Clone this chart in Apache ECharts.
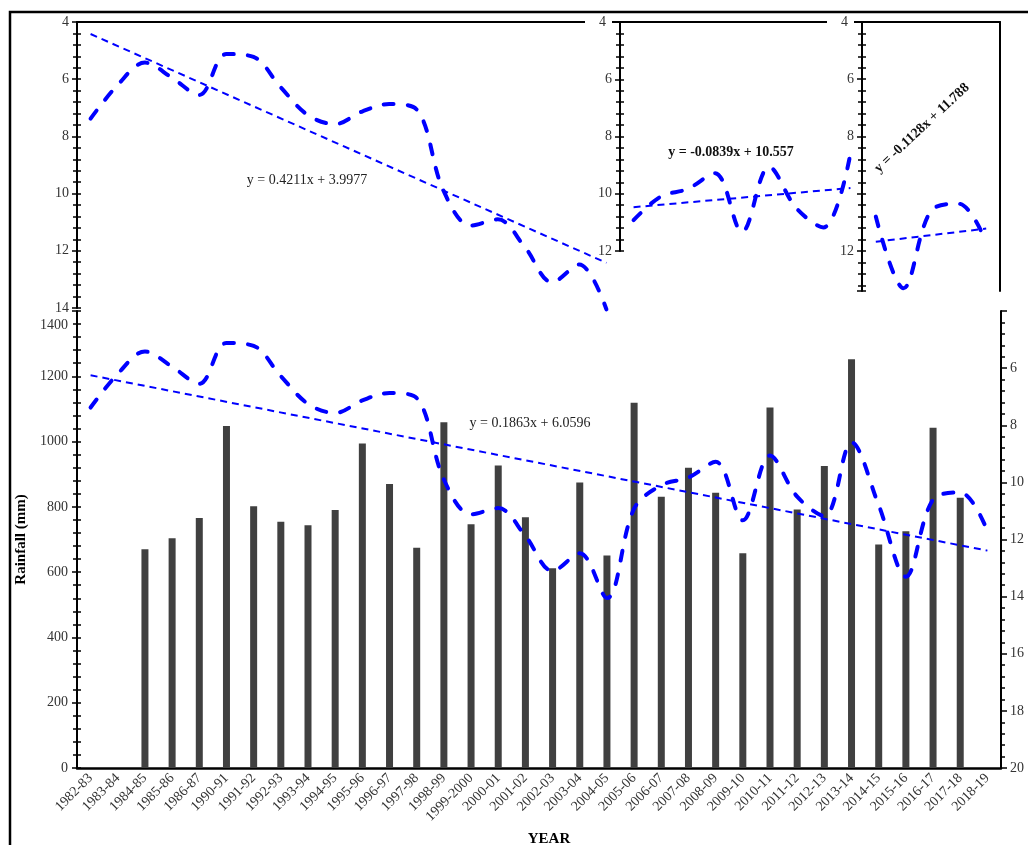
<!DOCTYPE html>
<html>
<head>
<meta charset="utf-8">
<title>Rainfall and trend</title>
<script src="https://cdn.jsdelivr.net/npm/echarts@6/dist/echarts.min.js"></script>
<style>
  html, body { margin: 0; padding: 0; background: #fff; }
  #chart { width: 1028px; height: 845px; }
</style>
</head>
<body>
<div id="chart"></div>
<script>
const years = ['1982-83', '1983-84', '1984-85', '1985-86', '1986-87', '1990-91', '1991-92', '1992-93',
  '1993-94', '1994-95', '1995-96', '1996-97', '1997-98', '1998-99', '1999-2000', '2000-01', '2001-02',
  '2002-03', '2003-04', '2004-05', '2005-06', '2006-07', '2007-08', '2008-09', '2009-10', '2010-11',
  '2011-12', '2012-13', '2013-14', '2014-15', '2015-16', '2016-17', '2017-18', '2018-19']

// rainfall bars (mm), left axis
const rainfall = [null, null, 670, 704, 766, 1048, 802, 754, 744, 790, 994, 870, 675, 1059, 747, 927,
  768, 612, 875, 651, 1119, 831, 920, 843, 658, 1104, 792, 925, 1252, 685, 725, 1042, 828, null]

// dashed blue curve, right axis (inverted)
const indexValues = [7.38, 6.2, 5.42, 5.95, 6.55, 5.12, 5.22, 6.28, 7.25, 7.57, 7.13, 6.87, 7.05, 9.9,
  11.12, 10.9, 11.88, 13.1, 12.48, 14.05, 10.92, 10.1, 9.83, 9.28, 11.33, 9.06, 10.5, 11.18, 8.6,
  10.8, 13.3, 10.6, 10.35, 11.7]

// trend line end values [first, last]
const trendAll = [6.25, 12.39]
const trend1 = [4.42, 12.42]
const trend2 = [10.47, 9.80]
const trend3 = [11.68, 11.22]

// period split: inset 1 = 0..19, inset 2 = 20..28, inset 3 = 29..33
const period1 = [0, 20]
const period2 = [20, 29]
const period3 = [29, 34]

const blue = '#0000ff'
const font = 'Liberation Serif'

function trendData(ends, n) {
  const d = new Array(n).fill(null)
  d[0] = ends[0]
  d[n - 1] = ends[1]
  return d
}

function insetX(gridIndex, range) {
  return {
    type: 'category', gridIndex: gridIndex, position: 'top',
    data: years.slice(range[0], range[1]), boundaryGap: true,
    axisLine: { onZero: false, lineStyle: { color: '#000', width: 2 } },
    axisTick: { alignWithLabel: true, length: 5, lineStyle: { color: '#000', width: 1.5 } },
    axisLabel: { show: false }, splitLine: { show: false }
  }
}

function insetY(gridIndex, max, hide) {
  return {
    type: 'value', gridIndex: gridIndex, position: 'left', inverse: true, min: 4, max: max, interval: 2,
    z: 3,
    axisLine: { show: true, onZero: false, lineStyle: { color: '#000', width: 2 } },
    axisTick: { show: true, length: 5, lineStyle: { color: '#000', width: 1.5 } },
    minorTick: { show: true, splitNumber: 5, length: 4, lineStyle: { color: '#000', width: 1.5 } },
    splitLine: { show: false },
    axisLabel: {
      color: '#333', fontSize: 14, margin: 8, fontFamily: font,
      formatter: function (v) {
        if (v % 2 !== 0 || hide.indexOf(v) >= 0) return ''
        if (v === 4 && gridIndex > 1) return '{w|4}'
        return v
      },
      rich: { w: { backgroundColor: '#fff', padding: [2, 6, 2, 14], fontSize: 14, color: '#333', fontFamily: font } }
    }
  }
}

// same axis again on the same side, only inside ticks, so ticks cross the axis line
function twinY(gridIndex, min, max, interval, inverse) {
  return {
    type: 'value', gridIndex: gridIndex, position: 'left', inverse: inverse,
    min: min, max: max, interval: interval,
    axisLine: { show: false },
    axisTick: { show: true, inside: true, length: 4, lineStyle: { color: '#000', width: 1.5 } },
    minorTick: { show: true, splitNumber: 5, length: 4, lineStyle: { color: '#000', width: 1.5 } },
    splitLine: { show: false }, axisLabel: { show: false }
  }
}

function curve(xi, yi, data) {
  return {
    type: 'line', xAxisIndex: xi, yAxisIndex: yi, data: data, smooth: 0.35,
    symbol: 'none', clip: false, z: 4,
    lineStyle: { color: blue, width: 4, type: [10, 14], cap: 'round' }
  }
}

function trend(xi, yi, data) {
  return {
    type: 'line', xAxisIndex: xi, yAxisIndex: yi, data: data, connectNulls: true,
    symbol: 'none', clip: false, z: 4,
    lineStyle: { color: blue, width: 2, type: [7, 5] }
  }
}

const chart = echarts.init(document.getElementById('chart'), null, { renderer: 'canvas' })

chart.setOption({
  animation: false,
  backgroundColor: '#fff',
  textStyle: { fontFamily: font },
  grid: [
    { left: 77, right: 27, top: 311, bottom: 77, outerBoundsMode: 'none' },
    { left: 77, top: 22, width: 543, height: 286, outerBoundsMode: 'none' },
    { left: 620, top: 22, width: 244, height: 229, outerBoundsMode: 'none' },
    { left: 862, top: 22, width: 138, height: 269, outerBoundsMode: 'none' }
  ],
  xAxis: [
    {
      type: 'category', gridIndex: 0, position: 'bottom', data: years, boundaryGap: true,
      axisLine: { onZero: false, lineStyle: { color: '#000', width: 2.5 } },
      axisTick: { alignWithLabel: true, length: 5, lineStyle: { color: '#000', width: 2 } },
      axisLabel: { interval: 0, rotate: 45, color: '#333', fontSize: 14, margin: 8, fontFamily: font },
      splitLine: { show: false },
      name: 'YEAR', nameLocation: 'middle', nameGap: 64,
      nameTextStyle: { fontWeight: 'bold', fontSize: 15, color: '#000', fontFamily: font, padding: [0, 0, 0, 20] }
    },
    insetX(1, period1),
    insetX(2, period2),
    insetX(3, period3)
  ],
  yAxis: [
    {
      type: 'value', gridIndex: 0, position: 'left', min: 0, max: 1400, interval: 200,
      axisLine: { show: true, onZero: false, lineStyle: { color: '#000', width: 2 } },
      axisTick: { show: true, length: 5, lineStyle: { color: '#000', width: 1.5 } },
      minorTick: { show: true, splitNumber: 5, length: 4, lineStyle: { color: '#000', width: 1.5 } },
      splitLine: { show: false },
      axisLabel: {
        color: '#333', fontSize: 14, margin: 9, fontFamily: font,
        formatter: function (v) { return v === 1400 ? '{t|1400}' : v },
        rich: { t: { padding: [28, 0, 0, 0], fontSize: 14, color: '#333', fontFamily: font } }
      },
      name: 'Rainfall (mm)', nameLocation: 'middle', nameGap: 47,
      nameTextStyle: { fontWeight: 'bold', fontSize: 15, color: '#000', fontFamily: font }
    },
    {
      type: 'value', gridIndex: 0, position: 'right', inverse: true, min: 4, max: 20, interval: 2,
      axisLine: { show: true, onZero: false, lineStyle: { color: '#000', width: 2 } },
      axisTick: { show: true, length: 6, lineStyle: { color: '#000', width: 1.5 } },
      minorTick: { show: true, splitNumber: 5, length: 4, lineStyle: { color: '#000', width: 1.5 } },
      splitLine: { show: false },
      axisLabel: {
        color: '#333', fontSize: 14, margin: 9, fontFamily: font,
        formatter: function (v) { return v === 4 ? '' : v }
      }
    },
    twinY(0, 0, 1400, 200, false),
    insetY(1, 14, []),
    twinY(1, 4, 14, 2, true),
    insetY(2, 12, []),
    twinY(2, 4, 12, 2, true),
    insetY(3, 13.4, [10]),
    twinY(3, 4, 13.4, 2, true),
    {
      type: 'value', gridIndex: 3, position: 'right', inverse: true, min: 4, max: 13.4,
      axisLine: { show: true, onZero: false, lineStyle: { color: '#000', width: 2 } },
      axisTick: { show: false }, axisLabel: { show: false }, splitLine: { show: false }
    }
  ],
  series: [
    {
      type: 'bar', xAxisIndex: 0, yAxisIndex: 0, data: rainfall, barWidth: 7,
      itemStyle: { color: '#404040' }
    },
    curve(0, 1, indexValues),
    trend(0, 1, trendData(trendAll, years.length)),
    curve(1, 3, indexValues.slice(period1[0], period1[1])),
    trend(1, 3, trendData(trend1, period1[1] - period1[0])),
    curve(2, 5, indexValues.slice(period2[0], period2[1])),
    trend(2, 5, trendData(trend2, period2[1] - period2[0])),
    curve(3, 7, indexValues.slice(period3[0], period3[1])),
    trend(3, 7, trendData(trend3, period3[1] - period3[0]))
  ],
  graphic: [
    {
      type: 'rect', z: 100, silent: true,
      shape: { x: 10, y: 12, width: 1100, height: 900 },
      style: { fill: null, stroke: '#000', lineWidth: 2.5 }
    },
    {
      type: 'text', x: 307, y: 180, z: 100,
      style: { text: 'y = 0.4211x + 3.9977', font: '14px "Liberation Serif"', fill: '#222', align: 'center', verticalAlign: 'middle' }
    },
    {
      type: 'text', x: 530, y: 423, z: 100,
      style: { text: 'y = 0.1863x + 6.0596', font: '14px "Liberation Serif"', fill: '#222', align: 'center', verticalAlign: 'middle' }
    },
    {
      type: 'text', x: 731, y: 152, z: 100,
      style: { text: 'y = -0.0839x + 10.557', font: 'bold 14px "Liberation Serif"', fill: '#111', align: 'center', verticalAlign: 'middle' }
    },
    {
      type: 'text', x: 922, y: 128, z: 100, rotation: 43 * Math.PI / 180,
      style: { text: 'y = -0.1128x + 11.788', font: 'bold 14px "Liberation Serif"', fill: '#111', align: 'center', verticalAlign: 'middle' }
    }
  ]
})
</script>
</body>
</html>
